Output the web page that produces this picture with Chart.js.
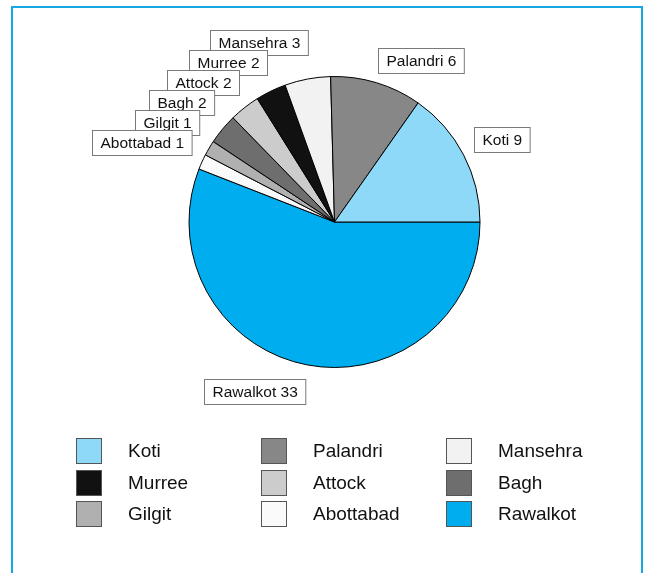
<!DOCTYPE html>
<html><head><meta charset="utf-8">
<script src="https://cdn.jsdelivr.net/npm/chart.js@4"></script>
<style>
html,body{margin:0;padding:0;background:#fff;width:654px;height:573px;overflow:hidden;font-family:Arial,"Liberation Sans",sans-serif}
#frame{position:absolute;left:11px;top:6px;width:628px;height:600px;border:2.5px solid #16A8E0;border-bottom:none}
#wrap{position:absolute;left:0;top:0;width:654px;height:573px}
#legend{position:absolute;left:76px;top:438px;display:grid;grid-template-columns:185px 185px 185px;row-gap:5.5px}
.item{display:flex;align-items:center;height:26px}
.sw{width:24px;height:24px;border:1px solid #555;margin-right:26px;box-sizing:content-box}
.lbl{font-size:19px;color:#111;line-height:26px}
</style>
</head><body>
<div id="frame"></div>
<div id="wrap"><canvas id="c" width="654" height="573"></canvas></div>
<div id="legend"></div>
<script>
const categories = ["Koti","Palandri","Mansehra","Murree","Attock","Bagh","Gilgit","Abottabad","Rawalkot"];
const values = [9,6,3,2,2,2,1,1,33];
const colors = ["#8DD9F7","#878787","#F2F2F2","#111111","#CCCCCC","#6E6E6E","#B0B0B0","#FAFAFA","#00AEEF"];

// Legend (HTML)
const lg = document.getElementById('legend');
categories.forEach((c,i)=>{
  const it=document.createElement('div');it.className='item';
  const sw=document.createElement('div');sw.className='sw';sw.style.background=colors[i];
  const lb=document.createElement('span');lb.className='lbl';lb.textContent=c;
  it.appendChild(sw);it.appendChild(lb);lg.appendChild(it);
});

// Slices go counter-clockwise from 3 o'clock: reverse for Chart.js (clockwise)
const N = categories.length;
const rev = a => a.slice().reverse();

const labelPlugin = {
  id:'boxLabels',
  afterDatasetsDraw(chart){
    const meta = chart.getDatasetMeta(0);
    const ctx = chart.ctx;
    ctx.save();
    ctx.font = '15.5px Arial, "Liberation Sans", sans-serif';
    const H = 25, STEP = 20;
    const boxes = categories.map((c,i)=>{
      const arc = meta.data[N-1-i];
      const mid = (arc.startAngle+arc.endAngle)/2;
      const r = arc.outerRadius*1.1;
      const ax = arc.x + r*Math.cos(mid), ay = arc.y + r*Math.sin(mid);
      const text = c+' '+values[i];
      const w = ctx.measureText(text).width + 16;
      const right = Math.cos(mid) >= 0, upper = Math.sin(mid) < 0;
      let left, top;
      if (upper) {
        left = right ? ax - 3 : ax + 3 - w;
        top = right ? ay + 4 - H : ay - 1 - H;
      } else {
        left = right ? ax : ax - w;
        top = ay;
      }
      return {text,w,left,top,right,upper};
    });
    // simple collision avoidance within each quadrant
    [[true,true],[true,false],[false,true],[false,false]].forEach(([rt,up])=>{
      const g = boxes.filter(b=>b.right===rt && b.upper===up);
      if(up){
        g.sort((a,b)=>b.top-a.top);
        for(let k=1;k<g.length;k++) g[k].top = Math.min(g[k].top, g[k-1].top-STEP);
      } else {
        g.sort((a,b)=>a.top-b.top);
        for(let k=1;k<g.length;k++) g[k].top = Math.max(g[k].top, g[k-1].top+STEP);
      }
    });
    ctx.textAlign='center'; ctx.textBaseline='middle';
    boxes.forEach(b=>{
      const x=Math.round(b.left)+0.5, y=Math.round(b.top)+0.5;
      ctx.fillStyle='#fff'; ctx.fillRect(x,y,b.w,H);
      ctx.strokeStyle='#7a7a7a'; ctx.lineWidth=1; ctx.strokeRect(x,y,b.w,H);
      ctx.fillStyle='#111'; ctx.fillText(b.text, x+b.w/2, y+H/2+1);
    });
    ctx.restore();
  }
};

new Chart(document.getElementById('c'), {
  type:'pie',
  data:{ labels: rev(categories), datasets:[{ data: rev(values), backgroundColor: rev(colors), borderColor:'#000', borderWidth:1 }]},
  options:{
    responsive:false, animation:false, rotation:90,
    layout:{padding:{left:188.5,right:173.5,top:76,bottom:205}},
    plugins:{legend:{display:false},tooltip:{enabled:false}}
  },
  plugins:[labelPlugin]
});
</script>
</body></html>
